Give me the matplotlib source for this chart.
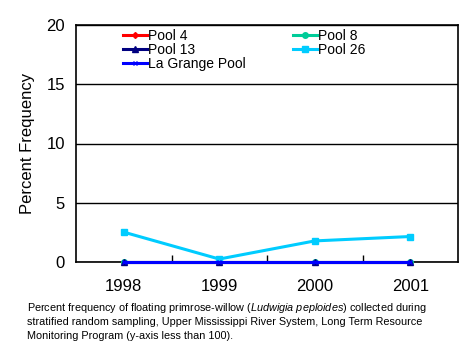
import matplotlib
matplotlib.use("Agg")
import matplotlib.pyplot as plt

years = ["1998", "1999", "2000", "2001"]
pool4 = [0, 0, 0, 0]
pool8 = [0, 0, 0, 0]
pool13 = [0, 0, 0, 0]
pool26 = [2.52, 0.25, 1.78, 2.15]
lagrange = [0, 0, 0, 0]
yticks = [0, 5, 10, 15, 20]

plt.rcParams['font.family'] = ['Liberation Sans', 'DejaVu Sans']
plt.rcParams['mathtext.fontset'] = 'custom'
plt.rcParams['mathtext.rm'] = 'Liberation Sans'
plt.rcParams['mathtext.it'] = 'Liberation Sans:italic'

fig = plt.figure(figsize=(4.68, 3.6), dpi=100)
ax = fig.add_axes([76/468, 1-262/360, (458-76)/468, (262-25)/360])

x = list(range(len(years)))
series = [
    ("Pool 4", pool4, "#FF0000", "D", 3, 2),
    ("Pool 8", pool8, "#00CC99", "o", 4, 3),
    ("Pool 13", pool13, "#000080", "^", 5, 4),
    ("Pool 26", pool26, "#00CCFF", "s", 5, 5),
    ("La Grange Pool", lagrange, "#0000FF", "x", 3, 6),
]
handles = {}
for name, vals, col, mk, ms, z in series:
    h, = ax.plot(x, vals, color=col, marker=mk, markersize=ms, linewidth=2.2,
                 label=name, markeredgecolor=col, clip_on=False, zorder=z)
    handles[name] = h

ax.set_xlim(-0.5, 3.5)
ax.set_ylim(0, 20)
ax.set_yticks(yticks)
ax.set_xticks(x)
ax.set_xticklabels(years, fontsize=12)
ax.set_yticklabels([str(v) for v in yticks], fontsize=12)
ax.tick_params(axis='x', length=0, pad=12)
ax.tick_params(axis='y', length=0, pad=8)
ax.set_xticks([0.5, 1.5, 2.5], minor=True)
ax.tick_params(axis='x', which='minor', direction='in', length=5, width=1)
ax.yaxis.grid(True, color='black', linewidth=1)
ax.set_axisbelow(True)
for s in ax.spines.values():
    s.set_linewidth(1.2)
ax.set_ylabel("Percent Frequency", fontsize=12, labelpad=8)

order = ["Pool 4", "Pool 13", "La Grange Pool", "Pool 8", "Pool 26"]
leg = ax.legend([handles[n] for n in order], order, loc='upper left',
                bbox_to_anchor=(0.102, 1.02), ncol=2,
                frameon=False, fontsize=10, handlelength=1.7, handletextpad=0.1,
                columnspacing=3.4, labelspacing=0.0, borderaxespad=0.2)

cap_lines = [
    r"Percent frequency of floating primrose-willow ($\it{Ludwigia\ peploides}$) collected during",
    "stratified random sampling, Upper Mississippi River System, Long Term Resource",
    "Monitoring Program (y-axis less than 100).",
]
for i, line in enumerate(cap_lines):
    fig.text(27/468, 1-(308+i*14)/360, line, fontsize=7.8, va='center', ha='left')

fig.savefig("out.png", dpi=100)
